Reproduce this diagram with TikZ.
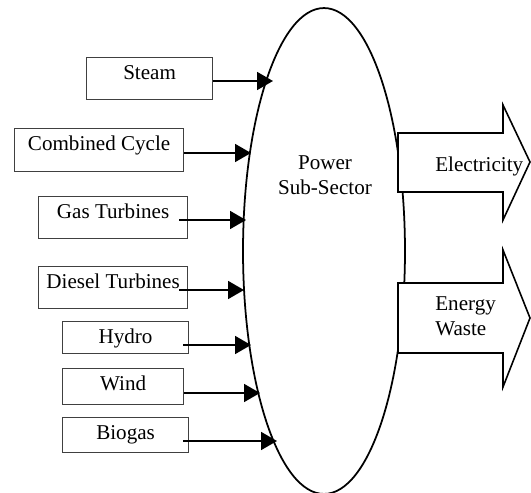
\documentclass[tikz,border=0pt]{standalone}
\usepackage{fontspec}
\setmainfont{Liberation Serif}
\usepackage{tikz}
\usetikzlibrary{arrows.meta,positioning,shapes.geometric}
\definecolor{ink}{HTML}{000000}
\definecolor{boxline}{HTML}{404040}

\begin{document}
\begin{tikzpicture}[x=0.02cm,y=-0.02cm,font=\fontsize{12}{14.5}\selectfont,
    srcbox/.style={draw=boxline,fill=white,line width=0.7pt,inner xsep=0pt,inner ysep=0pt,
                   anchor=north west,align=center,text height=0.44cm},
    hubring/.style={draw=ink,ellipse,line width=1pt,inner sep=0pt,
                    minimum width=3.24cm,minimum height=9.72cm},
    feed/.style={-{Triangle[length=0.32cm,width=0.36cm]},ink,line width=1pt},
    outflow/.style={draw=ink,fill=white,line width=0.9pt,line join=miter},
    tag/.style={inner sep=0pt}]
  \useasboundingbox (0,0) rectangle (531,493);
  \node[hubring] (rim) at (324,251) {};
  \node[srcbox,minimum width=2.52cm,text depth=0.40cm] (steam)  at (86,57)  {Steam};
  \node[srcbox,minimum width=3.38cm,text depth=0.42cm] (cc)     at (14,128) {Combined Cycle};
  \node[srcbox,minimum width=2.98cm,text depth=0.40cm] (gas)    at (38,196) {Gas Turbines};
  \node[srcbox,minimum width=2.98cm,text depth=0.40cm] (diesel) at (38,266) {Diesel Turbines};
  \node[srcbox,minimum width=2.52cm,text depth=0.20cm] (hydro)  at (62,321) {Hydro};
  \node[srcbox,minimum width=2.42cm,text depth=0.28cm] (wind)   at (62,368) {Wind};
  \node[srcbox,minimum width=2.52cm,text depth=0.26cm] (biogas) at (62,417) {Biogas};
  % arrow tips sit on the rim
  \foreach \src/\tx/\ty/\dx in {steam/273/81/0,cc/251/153/0,gas/246/220/-0.18,
                                diesel/244/290/-0.18,hydro/251/345/-0.12,
                                wind/260/393/0,biogas/277/441/-0.12}
  {
    \coordinate (\src-in) at (\tx,\ty);
    \draw[feed] ([xshift=\dx cm]\src.east |- \src-in) -- (\src-in);
  }
  % outgoing flows
  \draw[outflow] (398,133) -- (503,133) -- (503,105) -- (530,162) -- (503,220)
                 -- (503,192) -- (398,192) -- cycle;
  \draw[outflow] (398,283) -- (503,283) -- (503,250) -- (530,318) -- (503,387)
                 -- (503,353) -- (398,353) -- cycle;
  \node[tag,align=center] (hub) at (325,175) {Power\\Sub-Sector};
  \node[tag,anchor=west] (elec) at (435,166) {Electricity};
  \node[tag,anchor=west,align=left] (waste) at (435,316) {Energy\\Waste};
\end{tikzpicture}
\end{document}
